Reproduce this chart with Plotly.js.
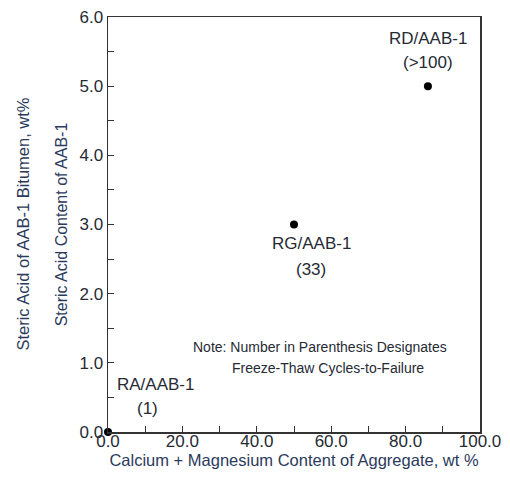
<!DOCTYPE html>
<html>
<head>
<meta charset="utf-8">
<script src="https://cdn.plot.ly/plotly-3.0.1.min.js"></script>
<style>html,body{margin:0;padding:0;background:#fff;}#chart{width:510px;height:479px;}</style>
</head>
<body>
<div id="chart"></div>
<script>
// Data
const sampleNames = ["RA/AAB-1", "RG/AAB-1", "RD/AAB-1"];
const cycles = ["(1)", "(33)", "(>100)"];
const calciumMagnesium = [0, 50, 86];
const stericAcid = [0, 3.0, 5.0];
const xTickVals = [0, 20, 40, 60, 80, 100];
const yTickVals = [0, 1, 2, 3, 4, 5, 6];
const noteLines = ["Note: Number in Parenthesis Designates", "Freeze-Thaw Cycles-to-Failure"];

const txt = "#262a33";
const titleCol = "#2b3a5c";
const fontFam = "Liberation Sans, Arial, sans-serif";

// label offsets (in pixels) relative to each point
const labelOffsets = [
  {name: [47, -48], cyc: [39, -24]},
  {name: [17, 19], cyc: [17, 45]},
  {name: [0, -48], cyc: [0, -24]}
];

const annotations = [];
sampleNames.forEach((n, i) => {
  annotations.push({x: calciumMagnesium[i], y: stericAcid[i], xref: 'x', yref: 'y',
    text: n, showarrow: true, arrowcolor: 'rgba(0,0,0,0)', ax: labelOffsets[i].name[0], ay: labelOffsets[i].name[1],
    font: {family: fontFam, size: 17, color: txt}});
  annotations.push({x: calciumMagnesium[i], y: stericAcid[i], xref: 'x', yref: 'y',
    text: cycles[i], showarrow: true, arrowcolor: 'rgba(0,0,0,0)', ax: labelOffsets[i].cyc[0], ay: labelOffsets[i].cyc[1],
    font: {family: fontFam, size: 17, color: txt}});
});
// Note text
annotations.push({xref: 'x', yref: 'y', x: 57, y: 1.23, text: noteLines[0], showarrow: false,
  font: {family: fontFam, size: 14, color: txt}});
annotations.push({xref: 'x', yref: 'y', x: 59.1, y: 0.925, text: noteLines[1], showarrow: false,
  font: {family: fontFam, size: 14, color: txt}});
// Y axis titles
annotations.push({xref: 'paper', yref: 'paper', x: -0.231, y: 0.5, xanchor: 'center', yanchor: 'middle',
  text: "Steric Acid of AAB-1 Bitumen, wt%", textangle: -90, showarrow: false,
  font: {family: fontFam, size: 16.5, color: titleCol}});
annotations.push({xref: 'paper', yref: 'paper', x: -0.124, y: 0.5, xanchor: 'center', yanchor: 'middle',
  text: "Steric Acid Content of AAB-1", textangle: -90, showarrow: false,
  font: {family: fontFam, size: 16, color: titleCol}});

const trace = {
  x: calciumMagnesium, y: stericAcid, mode: 'markers', type: 'scatter',
  marker: {color: '#000', size: 8}, cliponaxis: false, hoverinfo: 'skip'
};

const layout = {
  width: 510, height: 479,
  margin: {l: 108, r: 30, t: 17, b: 47},
  paper_bgcolor: '#fff', plot_bgcolor: '#fff',
  showlegend: false,
  font: {family: fontFam, size: 17, color: txt},
  xaxis: {
    range: [0, 100], tickvals: xTickVals, ticktext: xTickVals.map(v => v.toFixed(1)),
    ticks: 'inside', ticklen: 6, tickcolor: '#333', showgrid: false, zeroline: false,
    showline: true, linecolor: '#333', linewidth: 1.5, mirror: true,
    minor: {dtick: 10, tick0: 0, ticks: 'inside', ticklen: 6, tickcolor: '#333', showgrid: false},
    tickfont: {family: fontFam, size: 17, color: txt}, ticklabelstandoff: -7,
    title: {text: "Calcium + Magnesium Content of Aggregate, wt %", standoff: 0,
      font: {family: fontFam, size: 16.5, color: titleCol}}
  },
  yaxis: {
    range: [0, 6], tickvals: yTickVals, ticktext: yTickVals.map(v => v.toFixed(1)),
    ticks: 'inside', ticklen: 6, tickcolor: '#333', showgrid: false, zeroline: false,
    showline: true, linecolor: '#333', linewidth: 1.5, mirror: true,
    minor: {dtick: 0.5, tick0: 0, ticks: 'inside', ticklen: 6, tickcolor: '#333', showgrid: false},
    tickfont: {family: fontFam, size: 17, color: txt}
  },
  annotations: annotations
};

Plotly.newPlot('chart', [trace], layout, {displayModeBar: false, staticPlot: true});
</script>
</body>
</html>
